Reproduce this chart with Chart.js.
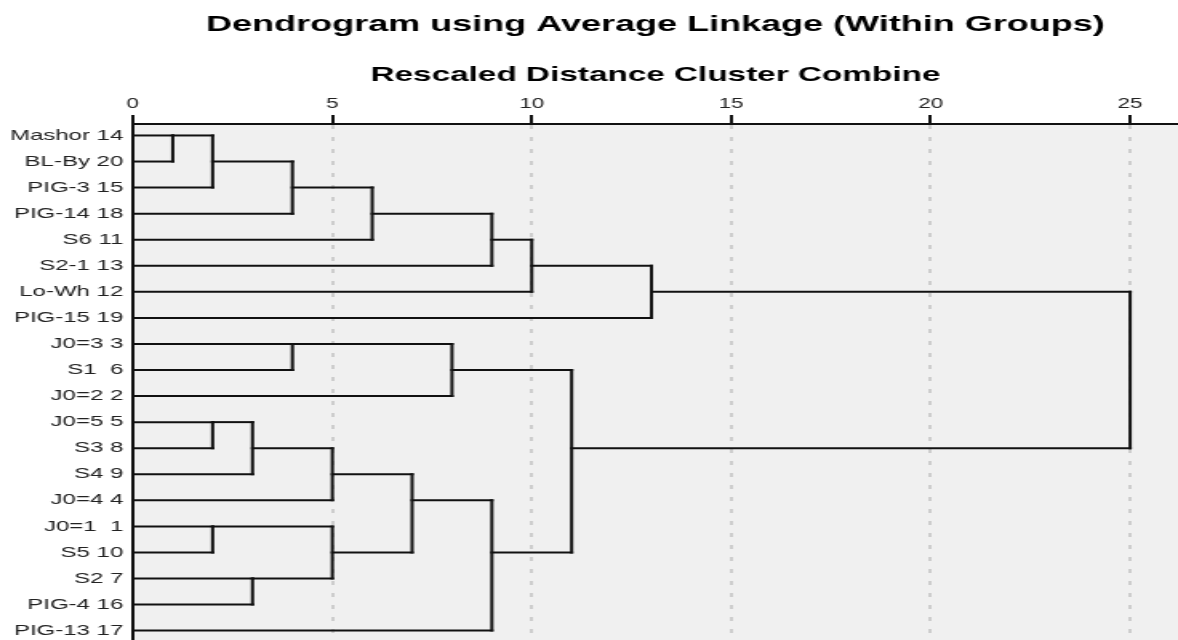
<!DOCTYPE html>
<html>
<head>
<meta charset="utf-8">
<script src="https://cdn.jsdelivr.net/npm/chart.js@4.4.1/dist/chart.umd.min.js"></script>
<style>
  html, body { margin: 0; padding: 0; background: #fff; overflow: hidden; }
</style>
</head>
<body>
<!-- the source picture is stretched sideways, so the canvas is too -->
<canvas id="dendro" width="736" height="640" style="display:block;width:1178px;height:640px"></canvas>
<script>
// leaves, top to bottom
const leafLabels = ['Mashor 14', 'BL-By 20', 'PIG-3 15', 'PIG-14 18', 'S6 11', 'S2-1 13', 'Lo-Wh 12', 'PIG-15 19',
    'J0=3 3', 'S1  6', 'J0=2 2', 'J0=5 5', 'S3 8', 'S4 9', 'J0=4 4', 'J0=1  1', 'S5 10', 'S2 7', 'PIG-4 16', 'PIG-13 17'];

// merge steps: node ids 0-19 are leaves, each step makes node 20, 21, ...
const mergeLeft = [0, 20, 21, 22, 23, 24, 25, 8, 27, 11, 29, 30, 15, 17, 32, 31, 35, 28, 26];
const mergeRight = [1, 2, 3, 4, 5, 6, 7, 9, 10, 12, 13, 14, 16, 18, 33, 34, 19, 36, 37];
const mergeDistance = [1, 2, 4, 6, 9, 10, 13, 4, 8, 2, 3, 5, 2, 3, 5, 7, 9, 11, 25];

const xTicks = [0, 5, 10, 15, 20, 25];

const nLeaves = leafLabels.length;
const rowOf = leafLabels.map((_, i) => i);
const heightOf = leafLabels.map(() => 0);
const parentOf = [];

mergeLeft.forEach((a, k) => {
    const id = nLeaves + k;
    const b = mergeRight[k];
    rowOf[id] = Math.floor((rowOf[a] + rowOf[b]) / 2);
    heightOf[id] = mergeDistance[k];
    parentOf[a] = id;
    parentOf[b] = id;
});

function seg(p1, p2) {
    return {
        data: [p1, p2],
        showLine: true,
        borderColor: '#111',
        borderWidth: 2,
        borderCapStyle: 'square',
        pointRadius: 0,
        fill: false
    };
}

const datasets = [];
// horizontal link from every node to where it joins its parent
for (let id = 0; id < rowOf.length; id++) {
    const p = parentOf[id];
    if (p === undefined) continue;
    datasets.push(seg({ x: heightOf[id], y: rowOf[id] }, { x: heightOf[p], y: rowOf[id] }));
}
// vertical bar of every merge
mergeLeft.forEach((a, k) => {
    const b = mergeRight[k];
    datasets.push(seg({ x: mergeDistance[k], y: rowOf[a] }, { x: mergeDistance[k], y: rowOf[b] }));
});

const plotBg = {
    id: 'plotBg',
    beforeDraw(chart) {
        const { ctx, chartArea: a } = chart;
        ctx.save();
        ctx.fillStyle = '#f0f0f0';
        ctx.fillRect(a.left, a.top, a.right - a.left, a.bottom - a.top);
        ctx.restore();
    }
};

function noPad(scale) {
    scale.paddingTop = 0;
    scale.paddingBottom = 0;
    scale.paddingLeft = 0;
    scale.paddingRight = 0;
}

Chart.defaults.font.family = '"Liberation Sans", Arial, sans-serif';

new Chart(document.getElementById('dendro'), {
    type: 'scatter',
    data: { datasets: datasets },
    plugins: [plotBg],
    options: {
        responsive: false,
        animation: false,
        devicePixelRatio: 1,
        layout: { padding: 0 },
        plugins: {
            legend: { display: false },
            tooltip: { enabled: false },
            title: {
                display: true,
                fullSize: false,
                text: 'Dendrogram using Average Linkage (Within Groups)',
                color: '#000',
                font: { size: 22.5, weight: 'bold' },
                padding: { top: 11, bottom: 0 }
            }
        },
        scales: {
            x: {
                type: 'linear',
                position: 'top',
                min: 0,
                max: 26.2,
                afterBuildTicks: (scale) => { scale.ticks = xTicks.map(v => ({ value: v })); },
                afterFit: (scale) => { scale.height = 86; noPad(scale); },
                ticks: { color: '#222', font: { size: 14 }, padding: 2 },
                grid: {
                    color: (c) => (c.tick && c.tick.value === 0 ? 'rgba(0,0,0,0)' : '#cdcdcd'),
                    lineWidth: 2,
                    tickColor: '#111',
                    tickLength: 9,
                    tickWidth: 2
                },
                border: { display: true, color: '#111', width: 2, dash: [4, 8] },
                title: {
                    display: true,
                    text: 'Rescaled Distance Cluster Combine',
                    color: '#000',
                    font: { size: 20.8, weight: 'bold' },
                    padding: { top: 24.5, bottom: 0 }
                }
            },
            y: {
                type: 'linear',
                reverse: true,
                min: -0.44,
                max: 19.36,
                afterBuildTicks: (scale) => { scale.ticks = leafLabels.map((_, i) => ({ value: i })); },
                afterFit: (scale) => { scale.width = 83; noPad(scale); },
                ticks: {
                    autoSkip: false,
                    color: '#222',
                    font: { size: 15 },
                    padding: 6,
                    callback: (v) => leafLabels[v]
                },
                grid: { display: false, drawTicks: false },
                border: { display: true, color: '#111', width: 2 }
            }
        }
    }
});
</script>
</body>
</html>
